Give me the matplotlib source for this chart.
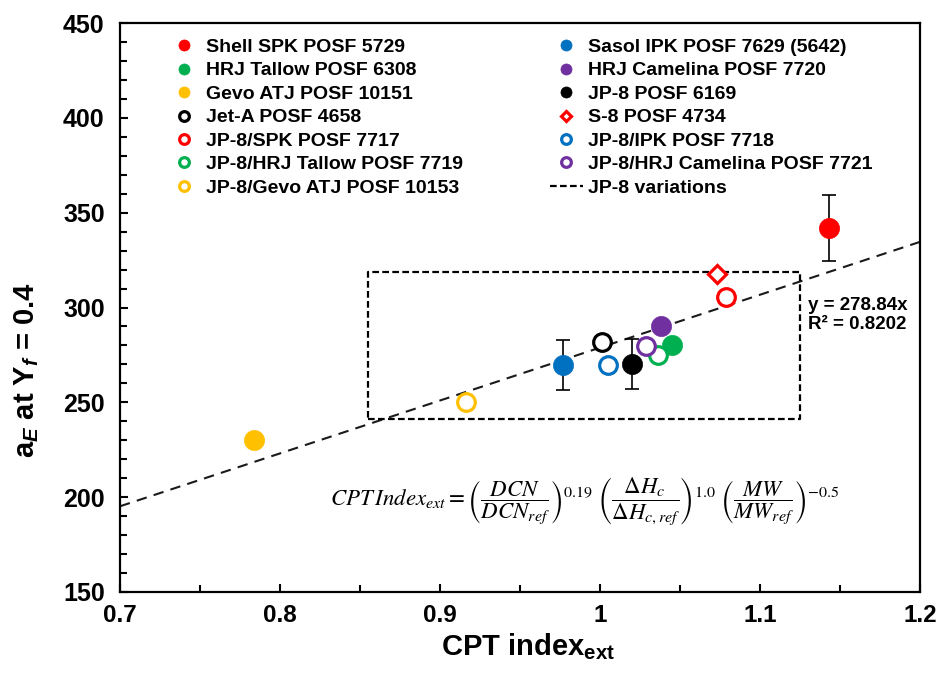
import matplotlib
matplotlib.use("Agg")
import matplotlib.pyplot as plt
from matplotlib.ticker import MultipleLocator
import numpy as np

plt.rcParams['font.family'] = ['Liberation Sans', 'DejaVu Sans']
plt.rcParams['mathtext.fontset'] = 'custom'
plt.rcParams['mathtext.rm'] = 'Liberation Sans:bold'
plt.rcParams['mathtext.bf'] = 'Liberation Sans:bold'
plt.rcParams['mathtext.it'] = 'Liberation Sans:italic:bold'

# ---- data ----
labels = ['Shell SPK POSF 5729', 'HRJ Tallow POSF 6308', 'Gevo ATJ POSF 10151',
          'Jet-A POSF 4658', 'JP-8/SPK POSF 7717', 'JP-8/HRJ Tallow POSF 7719',
          'JP-8/Gevo ATJ POSF 10153',
          'Sasol IPK POSF 7629 (5642)', 'HRJ Camelina POSF 7720', 'JP-8 POSF 6169',
          'S-8 POSF 4734', 'JP-8/IPK POSF 7718', 'JP-8/HRJ Camelina POSF 7721']
cpt_index = [1.143, 1.045, 0.784, 1.001, 1.079, 1.036, 0.916,
             0.977, 1.038, 1.020, 1.073, 1.005, 1.029]
a_E = [342.0, 280.2, 230.2, 282.0, 305.7, 275.0, 250.0,
       269.7, 290.2, 270.2, 317.6, 269.7, 279.8]
err = [17.4, 0, 0, 0, 0, 0, 0,
       13.4, 0, 13.4, 0, 0, 0]
colors = ['#FF0000', '#00B050', '#FFC000', '#000000', '#FF0000', '#00B050', '#FFC000',
          '#0070C0', '#7030A0', '#000000', '#FF0000', '#0070C0', '#7030A0']
filled = [True, True, True, False, False, False, False,
          True, True, True, False, False, False]
markers = ['o', 'o', 'o', 'o', 'o', 'o', 'o',
           'o', 'o', 'o', 'D', 'o', 'o']

fit_slope = 278.84
fit_x = [0.7, 1.2]
box_x = [0.855, 1.125]
box_y = [241.2, 318.7]

fig = plt.figure(figsize=(9.38, 6.81), dpi=100)
ax = fig.add_axes([0.1279, 0.1307, 0.8529, 0.8355])

# trend line
fx = np.array(fit_x)
ax.plot(fx, fit_slope * fx, ls=(0, (5, 3.5)), color='#1a1a1a', lw=1.5, zorder=1)

handles = []
for i in range(len(labels)):
    if err[i] > 0:
        ax.errorbar(cpt_index[i], a_E[i], yerr=err[i], fmt='none', ecolor='black',
                    elinewidth=1.2, capsize=5, capthick=1.2, zorder=2)
    ms = 10.5 if markers[i] == 'D' else 14.5
    if filled[i]:
        h, = ax.plot(cpt_index[i], a_E[i], ls='none', marker=markers[i], ms=ms,
                     mfc=colors[i], mec=colors[i], mew=0.5, label=labels[i], zorder=3)
    else:
        h, = ax.plot(cpt_index[i], a_E[i], ls='none', marker=markers[i], ms=ms - 1.8,
                     mfc='white', mec=colors[i], mew=2.3, label=labels[i], zorder=3)
    handles.append(h)

# JP-8 variations box
bx = [box_x[0], box_x[1], box_x[1], box_x[0], box_x[0]]
by = [box_y[0], box_y[0], box_y[1], box_y[1], box_y[0]]
hb, = ax.plot(bx, by, ls=(0, (3, 1.5)), color='black', lw=1.6, label='JP-8 variations', zorder=1)

order = handles[:7] + handles[7:] + [hb]
leg = ax.legend(handles=order, ncol=2, loc='upper left', bbox_to_anchor=(0.059, 0.973),
                frameon=False, prop={'size': 14, 'weight': 'bold'}, markerscale=0.55,
                labelspacing=0.3, handlelength=1.7, handletextpad=0.3, columnspacing=4.45,
                borderpad=0, borderaxespad=0)

ax.set_xlim(0.7, 1.2)
ax.set_ylim(150, 450)
ax.xaxis.set_major_locator(MultipleLocator(0.1))
ax.xaxis.set_minor_locator(MultipleLocator(0.05))
ax.yaxis.set_major_locator(MultipleLocator(50))
ax.yaxis.set_minor_locator(MultipleLocator(10))
ax.set_xticks([0.7, 0.8, 0.9, 1.0, 1.1, 1.2])
ax.set_xticklabels(['0.7', '0.8', '0.9', '1', '1.1', '1.2'])
ax.tick_params(which='both', direction='in', top=False, right=False, width=1.5)
ax.tick_params(which='major', length=6)
ax.tick_params(which='minor', length=5)
ax.tick_params(axis='y', which='major', labelsize=18, pad=11)
ax.tick_params(axis='x', which='major', labelsize=17.5, pad=9)
for lab in ax.get_xticklabels() + ax.get_yticklabels():
    lab.set_fontweight('bold')
for sp in ax.spines.values():
    sp.set_linewidth(1.6)

ax.set_ylabel('a$_E$ at Y$_f$ = 0.4', fontsize=21, fontweight='bold')
ax.yaxis.set_label_coords(-0.099, 0.39)
ax.set_xlabel(r'CPT index$_{\mathrm{ext}}$', fontsize=21, fontweight='bold')
ax.xaxis.set_label_coords(0.51, -0.069)

ax.text(1.130, 296, 'y = 278.84x\nR² = 0.8202', fontsize=13.5, fontweight='bold',
        ha='left', va='center', linespacing=1.1)

formula = (r'$CPT\,Index_{ext}=\left(\dfrac{DCN}{DCN_{ref}}\right)^{0.19}\;'
           r'\left(\dfrac{\Delta H_c}{\Delta H_{c,ref}}\right)^{1.0}\;'
           r'\left(\dfrac{MW}{MW_{ref}}\right)^{-0.5}$')
ax.text(0.831, 198, formula, fontsize=16.5, ha='left', va='center',
        math_fontfamily='stix', fontweight='normal')

fig.savefig('out.png', dpi=100)
